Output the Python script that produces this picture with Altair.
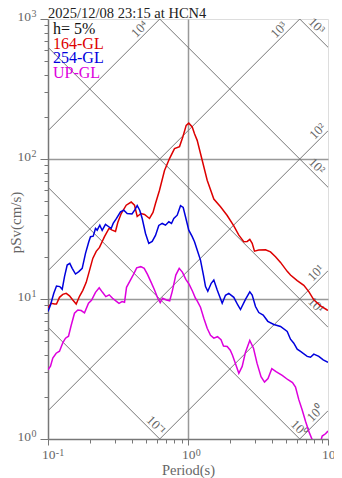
import math
import altair as alt
import pandas as pd

# ---------------- data ----------------
series_names = ["164-GL", "254-GL", "UP-GL"]
series_colors = ["#dd0000", "#0000dd", "#dd00dd"]

red_T = [0.1, 0.1054, 0.1113, 0.115, 0.1208, 0.1276, 0.1349, 0.1424, 0.1503, 0.159,
         0.1679, 0.1773, 0.1875, 0.198, 0.2089, 0.221, 0.2333, 0.2532, 0.2727, 0.2874,
         0.3035, 0.3151, 0.3334, 0.362, 0.3929, 0.4149, 0.4337, 0.4617, 0.489, 0.5309,
         0.5623, 0.5859, 0.6258, 0.6795, 0.7379, 0.801, 0.8697, 0.9181, 0.9707, 1.013,
         1.072, 1.113, 1.163, 1.263, 1.371, 1.529, 1.707, 1.905, 2.124, 2.307,
         2.503, 2.648, 2.763, 2.874, 2.985, 3.204, 3.578, 3.884, 4.217, 4.58,
         5.112, 5.396, 6.026, 6.717, 7.294, 7.918, 8.842, 9.869, 10.0]
red_Sv = [8.65, 9.31, 9.21, 9.21, 10.28, 10.8, 10.98, 10.54, 9.84, 9.21,
          10.45, 11.53, 13.15, 16.01, 19.5, 21.88, 23.36, 27.86, 31.91, 31.03,
          30.38, 35.21, 40.81, 46.77, 49.3, 46.77, 38.86, 40.81, 40.15, 37.6,
          41.5, 48.1, 59.83, 82.67, 100.7, 118.6, 122.6, 143.7, 173.9, 180.3,
          169.4, 151.7, 135.9, 97.9, 70.5, 51.79, 45.56, 39.5, 33.24, 28.59,
          25.65, 25.78, 26.64, 24.95, 21.95, 22.36, 22.5, 21.7, 20.06, 18.26,
          15.76, 14.83, 13.53, 12.52, 11.29, 9.87, 8.94, 8.35, 8.3]

blue_T = [0.1, 0.1042, 0.11, 0.115, 0.1214, 0.1263, 0.1312, 0.1371, 0.1431, 0.1489,
          0.1572, 0.166, 0.1755, 0.1853, 0.1956, 0.2012, 0.2103, 0.2184, 0.2246, 0.2344,
          0.2438, 0.2574, 0.2718, 0.2827, 0.2921, 0.3085, 0.3295, 0.3478, 0.3678, 0.3981,
          0.4169, 0.4337, 0.4526, 0.4708, 0.4972, 0.5248, 0.5549, 0.5859, 0.6185, 0.6542,
          0.6908, 0.7294, 0.7624, 0.7918, 0.8374, 0.8842, 0.9243, 0.9597, 1.013, 1.072,
          1.113, 1.163, 1.228, 1.29, 1.334, 1.385, 1.465, 1.529, 1.617, 1.755,
          1.853, 1.956, 2.124, 2.268, 2.371, 2.574, 2.763, 2.874, 3.035, 3.204,
          3.444, 3.715, 4.102, 4.58, 5.112, 5.396, 5.698, 6.026, 6.363, 7.103,
          7.499, 7.918, 8.597, 9.241, 10.0]
blue_Sv = [8.13, 9.06, 10.98, 12.38, 12.26, 11.73, 14.44, 17.48, 17.97, 16.55,
           15.08, 15.68, 16.55, 21.17, 25.65, 27.86, 28.12, 31.91, 31.03, 33.69,
           30.88, 34.08, 32.81, 31.91, 34.64, 37.6, 41.97, 43.09, 40.81, 40.49,
           43.24, 46.54, 42.88, 37.6, 29.39, 24.95, 25.78, 28.44, 33.52, 34.64,
           33.69, 35.62, 34.64, 37.6, 39.69, 46.39, 45.04, 38.66, 31.03, 27.86,
           25.65, 22.36, 18.97, 14.76, 12.26, 11.35, 12.94, 13.66, 11.59, 9.32,
           10.63, 10.98, 10.28, 9.06, 8.41, 9.95, 11.26, 10.68, 8.83, 8.0,
           7.69, 6.93, 6.58, 6.36, 5.86, 5.16, 4.83, 4.38, 4.22, 3.89,
           3.84, 4.04, 3.89, 3.67, 3.53]

mag_T = [0.1, 0.1042, 0.1082, 0.1144, 0.1208, 0.128, 0.1334, 0.1401, 0.1465, 0.1546,
         0.1633, 0.1726, 0.1823, 0.1947, 0.2045, 0.2184, 0.2321, 0.2451, 0.2588, 0.2737,
         0.289, 0.305, 0.3215, 0.3378, 0.352, 0.3638, 0.3853, 0.4081, 0.43, 0.4602,
         0.4866, 0.5137, 0.5424, 0.5736, 0.6084, 0.6329, 0.6574, 0.7019, 0.7401, 0.7711,
         0.8183, 0.8652, 0.9135, 0.9645, 1.02, 1.077, 1.131, 1.163, 1.228, 1.297,
         1.371, 1.448, 1.529, 1.625, 1.721, 1.793, 1.905, 2.004, 2.079, 2.184,
         2.307, 2.438, 2.574, 2.763, 2.937, 3.111, 3.323, 3.52, 3.728, 3.969,
         4.253, 4.709, 5.179, 5.578, 5.861, 6.186, 6.542, 6.908, 7.353, 7.711,
         8.14, 8.63, 9.09, 9.6, 10.0]
mag_Sv = [3.12, 3.31, 3.78, 4.1, 4.24, 4.91, 5.25, 5.42, 6.49, 7.91,
          8.35, 8.27, 7.97, 9.32, 9.79, 11.16, 12.02, 11.16, 10.4, 10.71,
          10.12, 9.71, 9.32, 9.58, 9.47, 12.12, 13.48, 15.0, 16.69, 17.02,
          16.55, 15.0, 13.31, 11.73, 10.12, 9.43, 10.12, 9.84, 9.71, 11.29,
          14.83, 16.55, 15.5, 13.81, 12.73, 11.35, 10.12, 9.71, 8.73, 7.29,
          6.18, 5.51, 5.25, 5.38, 5.12, 4.62, 4.58, 4.31, 3.97, 3.45,
          2.95, 3.3, 4.17, 5.05, 4.45, 3.48, 2.79, 2.55, 2.7, 3.18,
          3.03, 2.85, 2.65, 2.53, 2.35, 1.91, 1.61, 1.34, 1.11, 0.99,
          0.85, 0.88, 1.05, 1.09, 1.14]

# tripartite guide lines: pseudo-acceleration (gal) and displacement (cm)
sa_levels = [1, 10, 100, 1000, 10000]
sd_levels = [0.1, 1, 10, 100, 1000]
sa_label_T = [8.83, 8.89, 9.14, 4.84, 0.49]
sd_label_T = [0.545, 5.75, 7.56, 7.67, 7.63]
sa_texts = ["10⁰", "10¹", "10²", "10³", "10⁴"]
sd_texts = ["10⁻¹", "10⁰", "10¹", "10²", "10³"]

# axis tick labels (base + exponent)
x_label_vals = [0.1, 1, 10]
x_label_exp = ["-1", "0", "1"]
y_label_vals = [1, 10, 100, 1000]
y_label_exp = ["0", "1", "2", "3"]

title_text = "2025/12/08 23:15 at HCN4"
damping_text = "h= 5%"

x_domain = [0.1, 10]
y_domain = [1, 1000]
x_ticks = [0.1, 0.2, 0.3, 0.4, 0.5, 0.6, 0.7, 0.8, 0.9,
           1, 2, 3, 4, 5, 6, 7, 8, 9, 10]
y_ticks = [1, 2, 3, 4, 5, 6, 7, 8, 9, 10, 20, 30, 40, 50, 60, 70, 80, 90,
           100, 200, 300, 400, 500, 600, 700, 800, 900, 1000]

# ---------------- tables ----------------
TWO_PI = 2 * math.pi
curves = pd.concat([
    pd.DataFrame({"T": red_T, "Sv": red_Sv, "s": series_names[0], "o": 0}),
    pd.DataFrame({"T": blue_T, "Sv": blue_Sv, "s": series_names[1], "o": 1}),
    pd.DataFrame({"T": mag_T, "Sv": mag_Sv, "s": series_names[2], "o": 2}),
])

guide_rows = []
for lv in sa_levels:
    for T in x_domain:
        guide_rows.append({"id": f"a{lv}", "T": T, "Sv": lv * T / TWO_PI})
for lv in sd_levels:
    for T in x_domain:
        guide_rows.append({"id": f"d{lv}", "T": T, "Sv": TWO_PI * lv / T})
guides = pd.DataFrame(guide_rows)

lab_rows = []
for lv, T, t in zip(sa_levels, sa_label_T, sa_texts):
    lab_rows.append({"T": T, "Sv": lv * T / TWO_PI, "txt": t, "ang": 315})
for lv, T, t in zip(sd_levels, sd_label_T, sd_texts):
    lab_rows.append({"T": T, "Sv": TWO_PI * lv / T, "txt": t, "ang": 45})
glabels = pd.DataFrame(lab_rows)

xlab = pd.DataFrame({"T": x_label_vals, "b": "10", "e": x_label_exp})
ylab = pd.DataFrame({"Sv": y_label_vals, "b": "10", "e": y_label_exp})

# ---------------- scales / axes ----------------
FONT = "Liberation Serif"
GRAY = "#666"
major = "abs(log(datum.value)/LN10 - round(log(datum.value)/LN10)) < 0.001"

xaxis = alt.Axis(
    values=x_ticks, labels=False,
    title="Period(s)", titleFont=FONT, titleFontSize=14.5, titleFontWeight="normal",
    titleColor=GRAY, titleBaseline="alphabetic", titleY=35.5, titleX=140,
    tickSize={"condition": {"test": major, "value": 6}, "value": 4},
    tickColor="#777", tickWidth=1,
    domainColor="#777", domainWidth=1.5,
    grid=True, gridColor="#999", gridWidth=1.5,
    gridOpacity={"condition": {"test": "datum.value == 1", "value": 1}, "value": 0},
)
yaxis = alt.Axis(
    values=y_ticks, labels=False,
    title="pSv(cm/s)", titleFont=FONT, titleFontSize=15, titleFontWeight="normal",
    titleColor=GRAY, titleAngle=270, titleBaseline="alphabetic", titleAlign="center",
    titleX=-27.5, titleY=203,
    tickSize={"condition": {"test": major, "value": 8}, "value": 4},
    tickColor="#777", tickWidth=1,
    domainColor="#777", domainWidth=1.5,
    grid=True, gridColor="#999", gridWidth=1.5,
    gridOpacity={"condition": {"test": "datum.value == 10 || datum.value == 100", "value": 1}, "value": 0},
)
xs = alt.Scale(type="log", domain=x_domain, nice=False)
ys = alt.Scale(type="log", domain=y_domain, nice=False)
X = alt.X("T:Q", scale=xs, axis=xaxis)
Y = alt.Y("Sv:Q", scale=ys, axis=yaxis)

# ---------------- layers ----------------
guide_layer = alt.Chart(guides).mark_line(clip=True, color="#777", strokeWidth=1).encode(
    x=X, y=Y, detail="id:N")

glabel_layer = alt.Chart(glabels).mark_text(
    font=FONT, fontSize=13, color=GRAY, align="center", baseline="bottom"
).encode(x=X, y=Y, text="txt:N", angle=alt.Angle("ang:Q", scale=None))

curve_layer = alt.Chart(curves).mark_line(clip=True, strokeWidth=1.5).encode(
    x=X, y=Y,
    color=alt.Color("s:N", scale=alt.Scale(domain=series_names, range=series_colors), legend=None),
    order="o:Q", detail="s:N")

# tick labels: "10" with raised exponent
xlab_base = alt.Chart(xlab).mark_text(
    font=FONT, fontSize=13.5, color=GRAY, align="center", baseline="alphabetic", dx=0.7
).encode(x=X, y=alt.value(440.3), text="b:N")
xlab_exp = alt.Chart(xlab).mark_text(
    font=FONT, fontSize=10, color=GRAY, align="left", baseline="alphabetic", dx=7.8
).encode(x=X, y=alt.value(436.8), text="e:N")
ylab_base = alt.Chart(ylab).mark_text(
    font=FONT, fontSize=13.5, color=GRAY, align="right", baseline="alphabetic", dy=1.5
).encode(x=alt.value(-17), y=Y, text="b:N")
ylab_exp = alt.Chart(ylab).mark_text(
    font=FONT, fontSize=10, color=GRAY, align="left", baseline="alphabetic", dy=-2.5
).encode(x=alt.value(-16.5), y=Y, text="e:N")

text_layers = []
legend_lines = [damping_text] + series_names
legend_colors = ["#111"] + series_colors
legend_y = [14.5, 29.5, 44.2, 58.7]
for t, c, yy in zip(legend_lines, legend_colors, legend_y):
    text_layers.append(
        alt.Chart(pd.DataFrame({"t": [t]})).mark_text(
            font=FONT, fontSize=16, color=c, align="left", baseline="alphabetic"
        ).encode(text="t:N", x=alt.value(5), y=alt.value(yy))
    )

title_layer = alt.Chart(pd.DataFrame({"t": [title_text]})).mark_text(
    font=FONT, fontSize=14.5, color="#222", align="left", baseline="alphabetic"
).encode(text="t:N", x=alt.value(0), y=alt.value(-1.5))

chart = alt.layer(
    guide_layer, glabel_layer, curve_layer,
    xlab_base, xlab_exp, ylab_base, ylab_exp,
    *text_layers, title_layer
).properties(
    width=280, height=420,
    autosize=alt.AutoSizeParams(type="none"),
    padding={"left": 40, "top": 11, "right": 6, "bottom": 39},
).configure_view(stroke="#999", strokeWidth=1.5).configure(background="white")

chart.save("out.html", embed_options={"renderer": "svg", "actions": False})
